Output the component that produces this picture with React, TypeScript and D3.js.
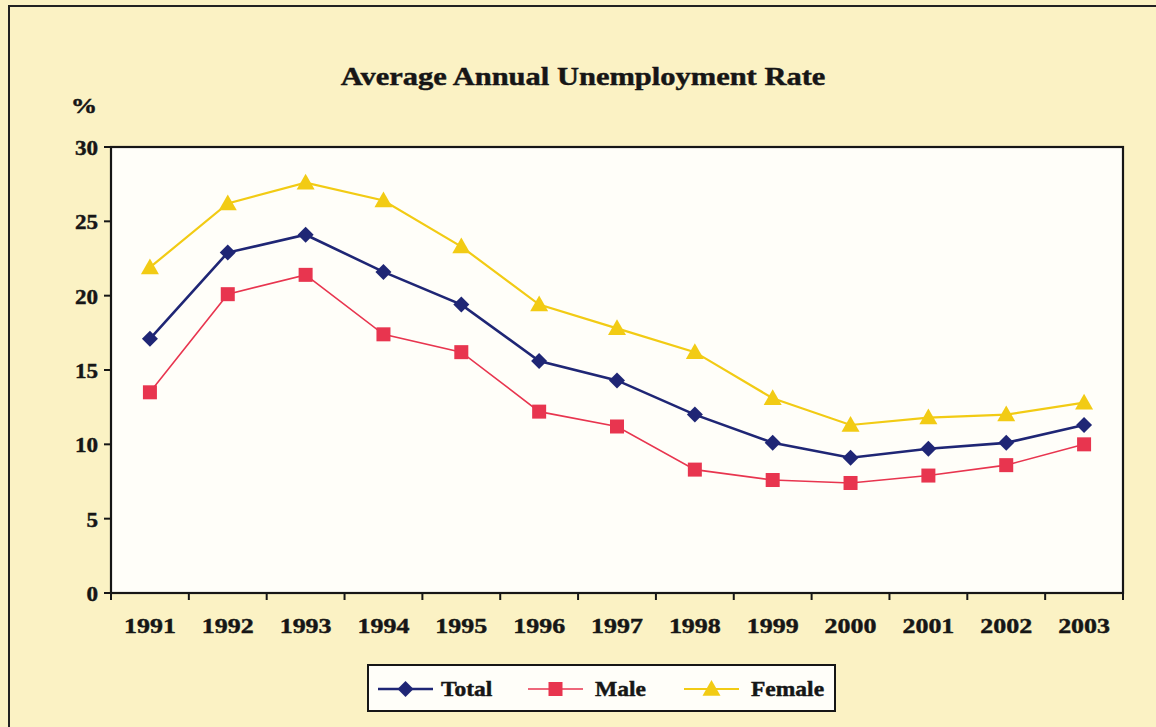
import React from "react";
import * as d3 from "d3";

// Average annual unemployment rate, 1991–2003 (%)
const years = ["1991", "1992", "1993", "1994", "1995", "1996", "1997", "1998", "1999", "2000", "2001", "2002", "2003"];
const total = [17.1, 22.9, 24.1, 21.6, 19.4, 15.6, 14.3, 12.0, 10.1, 9.1, 9.7, 10.1, 11.3];
const male = [13.5, 20.1, 21.4, 17.4, 16.2, 12.2, 11.2, 8.3, 7.6, 7.4, 7.9, 8.6, 10.0];
const female = [21.9, 26.2, 27.6, 26.4, 23.3, 19.4, 17.8, 16.2, 13.1, 11.3, 11.8, 12.0, 12.8];
const yTicks = [0, 5, 10, 15, 20, 25, 30];

const W = 1156;
const H = 727;
const M = { left: 111, right: 1123, top: 147, bottom: 593 };
const FONT = "'Liberation Serif', 'Times New Roman', serif";
const INK = "#161616";

type Series = { name: string; values: number[]; color: string; width: number; marker: "diamond" | "square" | "triangle" };

const series: Series[] = [
  { name: "Total", values: total, color: "#1f2675", width: 2.6, marker: "diamond" },
  { name: "Male", values: male, color: "#e8354f", width: 1.6, marker: "square" },
  { name: "Female", values: female, color: "#f2cb14", width: 2.2, marker: "triangle" },
];

function Marker({ kind, x, y, color }: { kind: Series["marker"]; x: number; y: number; color: string }) {
  if (kind === "diamond") {
    const r = 8;
    return <path d={`M${x},${y - r}L${x + r},${y}L${x},${y + r}L${x - r},${y}Z`} fill={color} />;
  }
  if (kind === "square") {
    const s = 14;
    return <rect x={x - s / 2} y={y - s / 2} width={s} height={s} fill={color} />;
  }
  const r = 9;
  return <path d={`M${x},${y - r}L${x + r},${y + r * 0.75}L${x - r},${y + r * 0.75}Z`} fill={color} />;
}

// Bold serif label, widened horizontally like the printed typeface
function Label({
  x,
  y,
  size,
  sx = 1,
  anchor = "start",
  children,
}: {
  x: number;
  y: number;
  size: number;
  sx?: number;
  anchor?: "start" | "middle" | "end";
  children: React.ReactNode;
}) {
  return (
    <text
      transform={`translate(${x},${y}) scale(${sx},1)`}
      textAnchor={anchor}
      fontSize={size}
      fontWeight="bold"
      fill={INK}
      stroke={INK}
      strokeWidth={0.45}
    >
      {children}
    </text>
  );
}

export default function App() {
  const x = d3.scaleBand<string>().domain(years).range([M.left, M.right]).padding(0);
  const y = d3.scaleLinear().domain([0, 30]).range([M.bottom, M.top]);
  const cx = (yr: string) => (x(yr) as number) + x.bandwidth() / 2;
  const line = d3
    .line<number>()
    .x((_, i) => cx(years[i]))
    .y((v) => y(v));

  const boundaries = years.map((yr) => x(yr) as number).concat([M.right]);

  const legendItems = [
    { s: series[0], lx: 378, tx: 441 },
    { s: series[1], lx: 528, tx: 595 },
    { s: series[2], lx: 684, tx: 751 },
  ];

  return (
    <svg width={W} height={H} style={{ position: "absolute", left: 0, top: 0 }} fontFamily={FONT}>
      <rect x={0} y={0} width={W} height={H} fill="#fbf2c4" />
      {/* outer frame */}
      <path d={`M9,${H + 5}V6H${W + 5}`} fill="none" stroke="#222" strokeWidth={2} />

      <Label x={583} y={85} size={25} sx={1.22} anchor="middle">
        Average Annual Unemployment Rate
      </Label>
      <Label x={84} y={113} size={22} sx={1.2} anchor="middle">
        %
      </Label>

      {/* plot area */}
      <rect x={M.left} y={M.top} width={M.right - M.left} height={M.bottom - M.top} fill="#fffef9" stroke={INK} strokeWidth={2.2} />

      {/* y axis ticks */}
      {yTicks.map((t) => (
        <g key={t}>
          <line x1={M.left - 7} x2={M.left} y1={y(t)} y2={y(t)} stroke={INK} strokeWidth={2} />
          <Label x={M.left - 13} y={y(t) + 8} size={22} sx={1.05} anchor="end">
            {t}
          </Label>
        </g>
      ))}

      {/* x axis ticks between categories */}
      {boundaries.map((bx, i) => (
        <line key={i} x1={bx} x2={bx} y1={M.bottom} y2={M.bottom + 7} stroke={INK} strokeWidth={2} />
      ))}
      {years.map((yr) => (
        <Label key={yr} x={cx(yr)} y={633} size={22} sx={1.18} anchor="middle">
          {yr}
        </Label>
      ))}

      {/* series */}
      {series.map((s) => (
        <g key={s.name}>
          <path d={line(s.values) as string} fill="none" stroke={s.color} strokeWidth={s.width} />
          {s.values.map((v, i) => (
            <Marker key={i} kind={s.marker} x={cx(years[i])} y={y(v)} color={s.color} />
          ))}
        </g>
      ))}

      {/* legend */}
      <rect x={368} y={665} width={467} height={46} fill="#fffef9" stroke={INK} strokeWidth={2} />
      {legendItems.map(({ s, lx, tx }) => (
        <g key={s.name}>
          <line x1={lx} x2={lx + 55} y1={689} y2={689} stroke={s.color} strokeWidth={s.width} />
          <Marker kind={s.marker} x={lx + 27.5} y={689} color={s.color} />
          <Label x={tx} y={696} size={21} sx={1.12}>
            {s.name}
          </Label>
        </g>
      ))}
    </svg>
  );
}
